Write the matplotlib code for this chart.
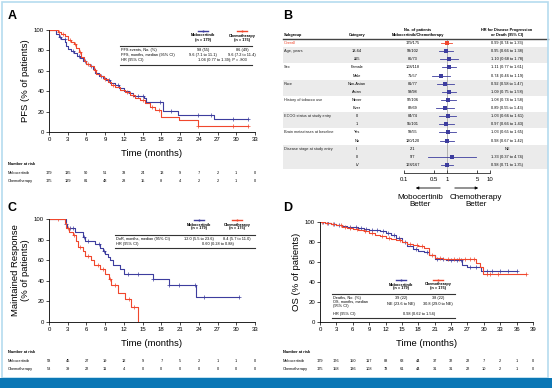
import numpy as np
import matplotlib
matplotlib.use("Agg")
import matplotlib.pyplot as plt
from matplotlib import transforms
from matplotlib.lines import Line2D
from matplotlib.patches import Rectangle

plt.rcParams['font.family'] = ['Liberation Sans', 'DejaVu Sans']

W, H = 554, 388
BLUE = '#3d3d9e'
RED = '#f0472d'
FRAME = '#b5dbef'
BAR = '#0b77b5'

# ---- data ----
# Panel A: PFS
A_mob_t = [0, 1.2, 1.6, 2.0, 2.6, 2.8, 3.0, 3.5, 4.0, 4.5, 5.0, 5.5, 6.0, 6.5, 7.0, 7.4, 8.0, 8.6, 9.2, 9.8,
           10.5, 11.2, 12.0, 12.8, 13.5, 15.2, 15.6, 18.2, 20.7, 26.4, 31.8]
A_mob_s = [100, 96, 93, 91, 88, 84, 81, 79, 77, 75, 73, 70, 67, 65, 62, 58, 55, 53, 51, 48,
           46, 43, 40, 38, 35, 33, 29, 21, 17, 13, 13]
A_mob_cens = [1.8, 2.5, 3.8, 4.8, 5.8, 6.8, 8.4, 9.6, 11.0, 13.0, 14.2, 15.0, 17.8, 19.5, 23.8, 26.0, 29.5, 31.8]
A_che_t = [0, 1.4, 2.0, 2.5, 3.0, 3.6, 4.0, 4.4, 4.8, 5.2, 5.6, 6.0, 6.6, 7.2, 7.6, 8.2, 8.8, 9.4, 10.0, 10.6,
           11.4, 12.2, 13.0, 13.8, 14.6, 15.4, 16.2, 17.0, 18.0, 20.8, 23.8, 31.9]
A_che_s = [100, 98, 96, 94, 90, 88, 86, 82, 78, 74, 70, 67, 65, 61, 57, 55, 52, 49, 46, 44,
           41, 39, 36, 33, 31, 28, 25, 22, 15, 12, 6, 6]
A_che_cens = [1.6, 2.2, 3.3, 4.2, 5.0, 6.3, 7.4, 9.0, 10.3, 12.5, 13.4, 15.0, 16.5, 17.6, 23.9, 29.5, 31.9]
A_risk_mob = [179, 135, 90, 51, 33, 24, 13, 9, 7, 2, 1, 0]
A_risk_che = [175, 129, 81, 48, 28, 15, 8, 4, 2, 2, 1, 0]
A_table = [('PFS events, No. (%)', '98 (55)', '86 (49)'),
           ('PFS, months, median (95% CI)', '9.6 (7.1 to 11.1)', '9.6 (7.2 to 11.4)'),
           ('HR (95% CI)', '1.04 (0.77 to 1.39); P = .803', None)]

# Panel C: duration of response
C_mob_t = [0, 2.7, 2.9, 4.2, 5.4, 5.8, 7.4, 8.2, 8.6, 9.0, 9.4, 9.8, 10.2, 11.4, 12.0, 16.6, 19.2, 23.5, 30.5]
C_mob_s = [100, 95, 91, 87, 83, 79, 76, 72, 69, 66, 63, 60, 55, 51, 47, 42, 36, 24, 24]
C_mob_cens = [2.8, 3.3, 3.8, 5.6, 6.2, 8.0, 8.8, 12.6, 14.3, 16.7, 19.3, 20.8, 23.4, 24.8, 30.5]
C_che_t = [0, 2.6, 2.8, 3.2, 3.8, 4.3, 4.6, 5.4, 5.8, 6.8, 7.2, 8.2, 9.0, 9.6, 10.0, 11.0, 12.2, 13.2, 14.3]
C_che_s = [100, 96, 91, 87, 84, 79, 73, 69, 64, 60, 55, 51, 47, 42, 36, 28, 22, 15, 0]
C_che_cens = [1.5, 3.0, 4.0, 5.0, 6.2, 7.8, 8.6, 9.8, 10.6, 12.8, 13.6]
C_risk_mob = [58, 45, 27, 19, 12, 9, 7, 5, 2, 1, 1, 0]
C_risk_che = [53, 39, 22, 11, 4, 0, 0, 0, 0, 0, 0, 0]
C_table = [('DoR, months, median (95% CI)', '12.0 (5.5 to 23.6)', '8.4 (5.7 to 11.0)'),
           ('HR (95% CI)', '0.60 (0.28 to 0.88)', None)]

# Panel D: OS
D_mob_t = [0, 1, 2, 3, 4, 5, 6, 7, 8, 9, 10, 11, 12, 13, 14, 15, 16, 17, 18, 19, 20,
           21.0, 23.0, 26.0, 27.0, 29.4, 36.0]
D_mob_s = [100, 99, 98, 97, 96, 95, 95, 94, 93, 92, 92, 91, 89, 87, 84, 80, 76, 73, 71, 70, 67,
           63, 62, 57, 55, 51, 51]
D_mob_cens = [0.5, 1.5, 2.5, 3.5, 5.5, 6.5, 7.5, 8.5, 9.5, 10.5, 11.5, 12.5, 13.5, 14.5, 15.5, 17.5,
              19.5, 21.5, 22.5, 24.0, 25.0, 25.8, 27.5, 28.5, 30.5, 31.5, 33.0, 34.5, 36.0]
D_che_t = [0, 1, 2, 3, 4, 5, 6, 7, 8, 9, 10, 11, 12, 13, 14, 15, 16, 17, 18, 19, 19.9,
           21.0, 22.5, 28.6, 29.3, 29.9, 37.8]
D_che_s = [100, 99, 98, 97, 95, 94, 93, 92, 91, 89, 87, 86, 84, 83, 82, 80, 78, 77, 76, 74, 67,
           64, 63, 59, 55, 48, 48]
D_che_cens = [0.3, 1.3, 2.3, 3.8, 4.5, 5.5, 6.8, 8.3, 9.6, 11.3, 12.6, 14.6, 16.5, 17.7, 18.6, 20.5,
              22.0, 23.5, 24.5, 25.5, 26.5, 27.5, 28.2, 30.5, 31.2, 32.5, 37.8]
D_risk_mob = [179, 176, 150, 117, 88, 63, 44, 37, 32, 22, 7, 2, 1, 0]
D_risk_che = [175, 158, 136, 108, 78, 61, 44, 31, 31, 22, 10, 2, 1, 0]
D_table = [('Deaths, No. (%)', '39 (22)', '38 (22)'),
           ('OS, months, median\n(95% CI)', 'NE (23.6 to NE)', '30.8 (29.0 to NE)'),
           ('HR (95% CI)', '0.98 (0.62 to 1.54)', None)]

# Panel B: subgroup forest plot
subgroup = ['Overall', 'Age, years', '', 'Sex', '', 'Race', '', 'History of tobacco use', '',
            'ECOG status at study entry', '', 'Brain metastases at baseline', '',
            'Disease stage at study entry', '', '']
category = ['', '18-64', '\u226565', 'Female', 'Male', 'Non-Asian', 'Asian', 'Never', 'Ever',
            '0', '1', 'Yes', 'No', 'II', 'III', 'IV']
n_patients = ['179/175', '93/102', '86/73', '108/118', '71/57', '81/77', '98/98', '97/106', '82/69',
              '84/74', '95/101', '59/55', '120/120', '2/1', '9/7', '168/167']
hr = [0.99, 0.95, 1.10, 1.11, 0.74, 0.92, 1.09, 1.08, 0.89, 1.03, 0.97, 1.03, 0.98, np.nan, 1.33, 0.98]
hr_lo = [0.74, 0.66, 0.68, 0.77, 0.46, 0.58, 0.75, 0.74, 0.55, 0.66, 0.66, 0.65, 0.67, np.nan, 0.37, 0.71]
hr_hi = [1.33, 1.38, 1.78, 1.61, 1.19, 1.47, 1.58, 1.58, 1.43, 1.61, 1.43, 1.65, 1.42, np.nan, 4.74, 1.35]
hr_text = ['0.99 (0.74 to 1.33)', '0.95 (0.66 to 1.38)', '1.10 (0.68 to 1.78)', '1.11 (0.77 to 1.61)',
           '0.74 (0.46 to 1.19)', '0.92 (0.58 to 1.47)', '1.09 (0.75 to 1.58)', '1.08 (0.74 to 1.58)',
           '0.89 (0.55 to 1.43)', '1.03 (0.66 to 1.61)', '0.97 (0.66 to 1.43)', '1.03 (0.65 to 1.65)',
           '0.98 (0.67 to 1.42)', 'NE', '1.33 (0.37 to 4.74)', '0.98 (0.71 to 1.35)']
shaded_rows = [1, 2, 5, 6, 9, 10, 13, 14, 15]
hr_ticks = [0.1, 0.5, 1, 5, 10]

SMALL = 2.8


def box(x0, y0, x1, y1):
    return [x0 / W, 1 - y1 / H, (x1 - x0) / W, (y1 - y0) / H]


fig = plt.figure(figsize=(W / 100, H / 100), dpi=100)


def ftext(x, y, s, **kw):
    kw.setdefault('va', 'center')
    kw.setdefault('fontsize', SMALL)
    fig.text(x / W, 1 - y / H, s, **kw)


def fline(x0, x1, y, lw=0.5, color='#333333'):
    fig.add_artist(Line2D([x0 / W, x1 / W], [1 - y / H, 1 - y / H], lw=lw, color=color,
                          transform=fig.transFigure))


def step_at(t, s, tc):
    idx = np.searchsorted(t, tc, side='right') - 1
    return np.asarray(s)[idx]


# frame and bottom bar
fig.add_artist(Rectangle((1.5 / W, 1 - 378 / H), 546.5 / W, 376.5 / H, transform=fig.transFigure,
                         fill=False, ec=FRAME, lw=1.2))
fig.add_artist(Rectangle((0, 0), 552 / W, 10 / H, transform=fig.transFigure, color=BAR, lw=0))


def km_panel(rect, curves, xmax, ylabel, risk, risk_y, label_x, table, table_box):
    ax = fig.add_axes(box(*rect))
    for t, s, cens, col in curves:
        ax.step(t, s, where='post', color=col, lw=0.8)
        ax.plot(cens, step_at(t, s, cens), '+', color=col, ms=2.5, mew=0.5)
    ax.set_xlim(0, xmax)
    ax.set_ylim(0, 100)
    ax.set_xticks(np.arange(0, xmax + 1, 3))
    ax.set_yticks(np.arange(0, 101, 20))
    for sp in ['top', 'right']:
        ax.spines[sp].set_visible(False)
    for sp in ['left', 'bottom']:
        ax.spines[sp].set_linewidth(0.6)
    ax.tick_params(labelsize=4.3, length=2, width=0.5, pad=1.5)
    ax.set_xlabel('Time (months)', fontsize=6.8, labelpad=5)
    ax.set_ylabel(ylabel, fontsize=6.8, labelpad=3, linespacing=1.1)
    ax.margins(0)
    # number at risk
    tr = transforms.blended_transform_factory(ax.transData, fig.transFigure)
    ftext(label_x, risk_y[0], 'Number at risk', fontweight='bold')
    for name, vals, y in [('Mobocertinib', risk[0], risk_y[1]), ('Chemotherapy', risk[1], risk_y[2])]:
        ftext(label_x, y, name)
        for tt, v in zip(np.arange(0, xmax + 1, 3), vals):
            ax.text(tt, 1 - y / H, str(v), transform=tr, fontsize=SMALL, ha='center', va='center')
    # inset table
    x0, x1, ytop, c1, c2, ymark, rows_y, ybot = table_box
    for cx, col, name, n in [(c1, BLUE, 'Mobocertinib', '(n = 179)'), (c2, RED, 'Chemotherapy', '(n = 175)')]:
        fig.add_artist(Line2D([(cx - 5) / W, cx / W, (cx + 5) / W], [1 - ymark / H] * 3, color=col,
                              lw=1.0, marker='|', markevery=[1], ms=2, transform=fig.transFigure))
        ftext(cx, ymark + 4.5, name, ha='center', fontweight='bold', fontsize=2.8)
        ftext(cx, ymark + 8.5, n, ha='center', fontweight='bold', fontsize=2.8)
    fline(x0, x1, ytop, lw=0.8)
    for (lab, v1, v2), y in zip(table, rows_y):
        ftext(x0 + 1, y, lab, linespacing=1.15)
        if v2 is None:
            ftext((c1 + c2) / 2, y, v1, ha='center')
        else:
            ftext(c1, y, v1, ha='center')
            ftext(c2, y, v2, ha='center')
    fline(x0, x1, ybot, lw=0.8)
    return ax


# Panel A
km_panel((49, 30, 255, 132),
         [(A_mob_t, A_mob_s, A_mob_cens, BLUE), (A_che_t, A_che_s, A_che_cens, RED)],
         33, 'PFS (% of patients)', (A_risk_mob, A_risk_che), (164, 173, 181), 8,
         A_table, (120, 252, 45.5, 203, 242, 31, (49.5, 55, 60.5), 64.5))

# Panel C
km_panel((49, 219, 255, 322),
         [(C_mob_t, C_mob_s, C_mob_cens, BLUE), (C_che_t, C_che_s, C_che_cens, RED)],
         33, 'Maintained Response\n(% of patients)', (C_risk_mob, C_risk_che), (352, 361, 369), 8,
         C_table, (115, 255, 235, 199, 237, 220, (239, 244), 248))

# Panel D
km_panel((320, 222, 533, 322),
         [(D_mob_t, D_mob_s, D_mob_cens, BLUE), (D_che_t, D_che_s, D_che_cens, RED)],
         39, 'OS (% of patients)', (D_risk_mob, D_risk_che), (352, 361, 369), 283,
         D_table, (332, 455, 294, 401, 438, 280, (298, 304, 313.5), 318))

# Panel B: forest plot
px_lo, px_hi = 404, 490
dec = (px_hi - px_lo) / 2
left, right, top, bottom = 283, 548, 39, 173
row0, drow = 43, 8.13
axb = fig.add_axes(box(left, top, right, bottom))
axb.set_xscale('log')
axb.set_xlim(10 ** (-1 - (px_lo - left) / dec), 10 ** (1 + (right - px_hi) / dec))
axb.set_ylim((bottom - row0) / drow, (top - row0) / drow)
for r in shaded_rows:
    axb.axhspan(r - 0.5, r + 0.5, color='#ebebeb', lw=0, zorder=0)
axb.plot([1, 1], [-0.5, 15.6], color='#9a9a9a', lw=0.5, zorder=1)
rows = np.arange(len(hr))
cols = [RED if i == 0 else BLUE for i in rows]
for i in rows:
    if np.isnan(hr[i]):
        continue
    axb.plot([hr_lo[i], hr_hi[i]], [i, i], color=cols[i], lw=0.6, zorder=2)
    axb.plot(hr[i], i, 's', color=cols[i], ms=2.2, mew=0, zorder=3)
for sp in ['left', 'right']:
    axb.spines[sp].set_visible(False)
axb.spines['top'].set_linewidth(1.0)
axb.spines['top'].set_color('#444444')
axb.spines['bottom'].set_bounds(0.1, 10)
axb.spines['bottom'].set_linewidth(0.5)
axb.set_yticks([])
axb.set_xticks(hr_ticks)
axb.set_xticklabels(['0.1', '0.5', '1', '5', '10'])
axb.xaxis.set_minor_locator(matplotlib.ticker.NullLocator())
axb.tick_params(axis='x', direction='in', length=2.5, width=0.5, labelsize=4.3, pad=3)

trb = transforms.blended_transform_factory(fig.transFigure, axb.transData)
for i in rows:
    c = RED if i == 0 else '#222222'
    axb.text(284 / W, i, subgroup[i], transform=trb, fontsize=SMALL, va='center', color=c)
    axb.text(357 / W, i, category[i], transform=trb, fontsize=SMALL, va='center', ha='center')
    axb.text(413 / W, i, n_patients[i], transform=trb, fontsize=SMALL, va='center', ha='center')
    axb.text(507 / W, i, hr_text[i], transform=trb, fontsize=SMALL, va='center', ha='center')

ftext(284, 35, 'Subgroup', fontweight='bold')
ftext(357, 35, 'Category', fontweight='bold', ha='center')
ftext(418, 32.5, 'No. of patients\nMobocertinib/Chemotherapy', fontweight='bold', ha='center',
      linespacing=1.2)
ftext(507, 32.5, 'HR for Disease Progression\nor Death (95% CI)', fontweight='bold', ha='center',
      linespacing=1.2)

axb.annotate('', xy=(413 / W, 1 - 188 / H), xytext=(443 / W, 1 - 188 / H), xycoords='figure fraction',
             arrowprops=dict(arrowstyle='-|>', lw=0.6, color='k', mutation_scale=4), annotation_clip=False)
axb.annotate('', xy=(481 / W, 1 - 188 / H), xytext=(452 / W, 1 - 188 / H), xycoords='figure fraction',
             arrowprops=dict(arrowstyle='-|>', lw=0.6, color='k', mutation_scale=4), annotation_clip=False)
ftext(420, 201, 'Mobocertinib\nBetter', ha='center', fontsize=5.8, linespacing=1.15)
ftext(476, 201, 'Chemotherapy\nBetter', ha='center', fontsize=5.8, linespacing=1.15)

# panel letters
for lab, x, y in [('A', 8, 16), ('B', 283, 16), ('C', 8, 208), ('D', 283, 208)]:
    ftext(x, y, lab, fontsize=9, fontweight='bold')

fig.savefig('out.png', dpi=100)
